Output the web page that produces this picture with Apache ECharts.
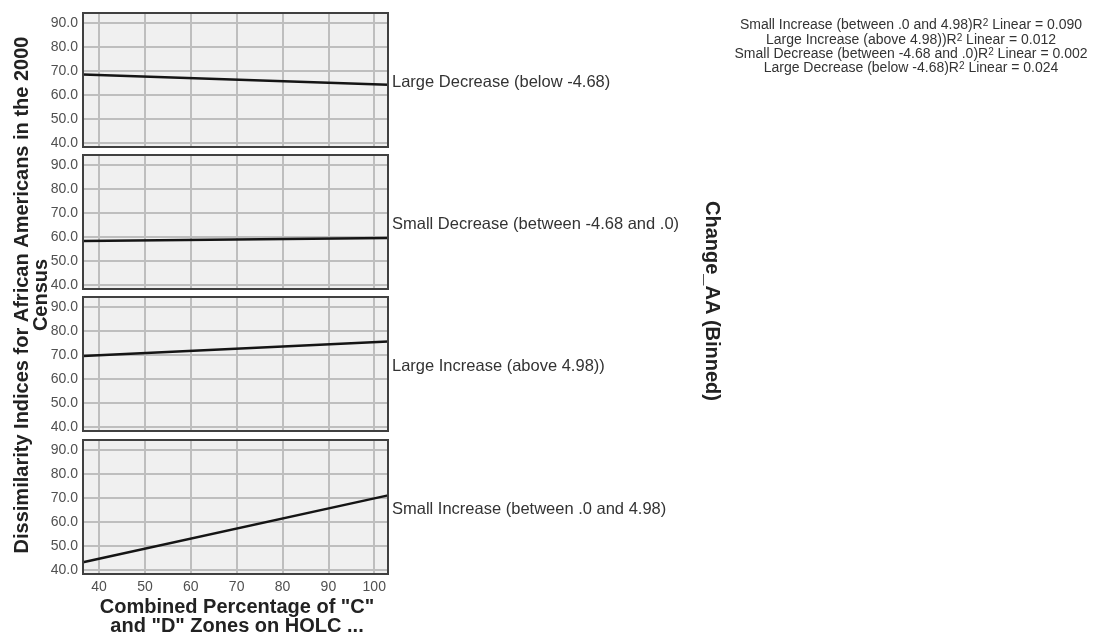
<!DOCTYPE html>
<html><head><meta charset="utf-8">
<script src="https://cdn.jsdelivr.net/npm/echarts@6/dist/echarts.min.js"></script>
<style>html,body{margin:0;padding:0;background:#fff}#c{width:1094px;height:636px}</style>
</head><body><div id="c"></div>
<script>
// ---- data ----
const panels = ['Large Decrease (below -4.68)', 'Small Decrease (between -4.68 and .0)', 'Large Increase (above 4.98))', 'Small Increase (between .0 and 4.98)'];
const xEnds = [36.5, 103];
const lineStart = [68.5, 58.3, 69.6, 43.2];
const lineEnd = [64.3, 59.6, 75.6, 71.1];
const xTicks = [40, 50, 60, 70, 80, 90, 100];
const yTicks = [40, 50, 60, 70, 80, 90];
const legendGroups = ['Small Increase (between .0 and 4.98)', 'Large Increase (above 4.98))', 'Small Decrease (between -4.68 and .0)', 'Large Decrease (below -4.68)'];
const rSquared = ['0.090', '0.012', '0.002', '0.024'];
const yTitle1 = 'Dissimilarity Indices for African Americans in the 2000';
const yTitle2 = 'Census';
const xTitle1 = 'Combined Percentage of "C"';
const xTitle2 = 'and "D" Zones on HOLC ...';
const facetTitle = 'Change_AA (Binned)';

// ---- layout ----
const FONT = '"Liberation Sans", Arial, sans-serif';
const tops = [13, 155, 297, 440];
const PH = 134, PL = 83, PW = 305;
const X_MIN = 36.5, X_MAX = 103, Y_MIN = 38.3, Y_MAX = 94.2;

const grids = [], xAxes = [], yAxes = [], series = [], graphics = [];
panels.forEach((name, i) => {
  grids.push({left: PL, top: tops[i], width: PW, height: PH, show: true,
    backgroundColor: '#f0f0f0', borderColor: '#404040', borderWidth: 2, containLabel: false});
  const last = i === panels.length - 1;
  xAxes.push({type: 'value', gridIndex: i, min: X_MIN, max: X_MAX, minInterval: 10, maxInterval: 10,
    axisLine: {show: false}, axisTick: {show: false},
    splitLine: {show: true, showMinLine: false, showMaxLine: false, lineStyle: {color: '#bebebe', width: 2}},
    axisLabel: {show: last, fontSize: 14, color: '#505050', fontFamily: FONT, margin: 6,
      showMinLabel: true, showMaxLabel: true, hideOverlap: false,
      formatter: v => xTicks.some(t => Math.abs(t - v) < 1e-6) ? String(Math.round(v)) : ''}});
  yAxes.push({type: 'value', gridIndex: i, min: Y_MIN, max: Y_MAX, minInterval: 10, maxInterval: 10,
    axisLine: {show: false}, axisTick: {show: false},
    splitLine: {show: true, showMinLine: false, showMaxLine: false, lineStyle: {color: '#bebebe', width: 2}},
    axisLabel: {show: true, fontSize: 14, color: '#505050', fontFamily: FONT, margin: 5,
      showMinLabel: true, showMaxLabel: true, hideOverlap: false,
      formatter: v => yTicks.some(t => Math.abs(t - v) < 1e-6) ? v.toFixed(1) : ''}});
  series.push({type: 'line', xAxisIndex: i, yAxisIndex: i, showSymbol: false, silent: true,
    data: [[xEnds[0], lineStart[i]], [xEnds[1], lineEnd[i]]],
    lineStyle: {color: '#151515', width: 2.5}, itemStyle: {color: '#151515'}});
  graphics.push({type: 'rect', z: 100, silent: true,
    shape: {x: PL, y: tops[i], width: PW, height: PH},
    style: {fill: 'none', stroke: '#404040', lineWidth: 2}});
  graphics.push({type: 'text', x: 392, y: tops[i] + PH / 2 + 2,
    style: {text: name, fontSize: 16.5, fontFamily: FONT, fill: '#333', align: 'left', verticalAlign: 'middle'}});
});

// axis titles
graphics.push({type: 'text', x: 22, y: 295, rotation: Math.PI / 2,
  style: {text: yTitle1, fontSize: 20, fontWeight: 'bold', fontFamily: FONT, fill: '#222', align: 'center', verticalAlign: 'middle'}});
graphics.push({type: 'text', x: 41, y: 295, rotation: Math.PI / 2,
  style: {text: yTitle2, fontSize: 20, fontWeight: 'bold', fontFamily: FONT, fill: '#222', align: 'center', verticalAlign: 'middle'}});
graphics.push({type: 'text', x: 237, y: 607,
  style: {text: xTitle1, fontSize: 20, fontWeight: 'bold', fontFamily: FONT, fill: '#222', align: 'center', verticalAlign: 'middle'}});
graphics.push({type: 'text', x: 237, y: 626,
  style: {text: xTitle2, fontSize: 20, fontWeight: 'bold', fontFamily: FONT, fill: '#222', align: 'center', verticalAlign: 'middle'}});
graphics.push({type: 'text', x: 712, y: 301, rotation: -Math.PI / 2,
  style: {text: facetTitle, fontSize: 20, fontWeight: 'bold', fontFamily: FONT, fill: '#222', align: 'center', verticalAlign: 'middle'}});

// R² legend
const legendY = [25, 40, 54, 68];
legendGroups.forEach((g, i) => {
  graphics.push({type: 'text', x: 911, y: legendY[i],
    style: {text: '{n|' + g + 'R}{s|2}{n| Linear = ' + rSquared[i] + '}',
      align: 'center', verticalAlign: 'middle', fontFamily: FONT,
      rich: {
        n: {fontSize: 14, fontFamily: FONT, fill: '#333', lineHeight: 14, verticalAlign: 'bottom'},
        s: {fontSize: 10, fontFamily: FONT, fill: '#333', lineHeight: 14, verticalAlign: 'top'}
      }}});
});

const chart = echarts.init(document.getElementById('c'), null, {renderer: 'canvas'});
chart.setOption({animation: false, backgroundColor: '#fff',
  grid: grids, xAxis: xAxes, yAxis: yAxes, series: series, graphic: graphics});
</script></body></html>
